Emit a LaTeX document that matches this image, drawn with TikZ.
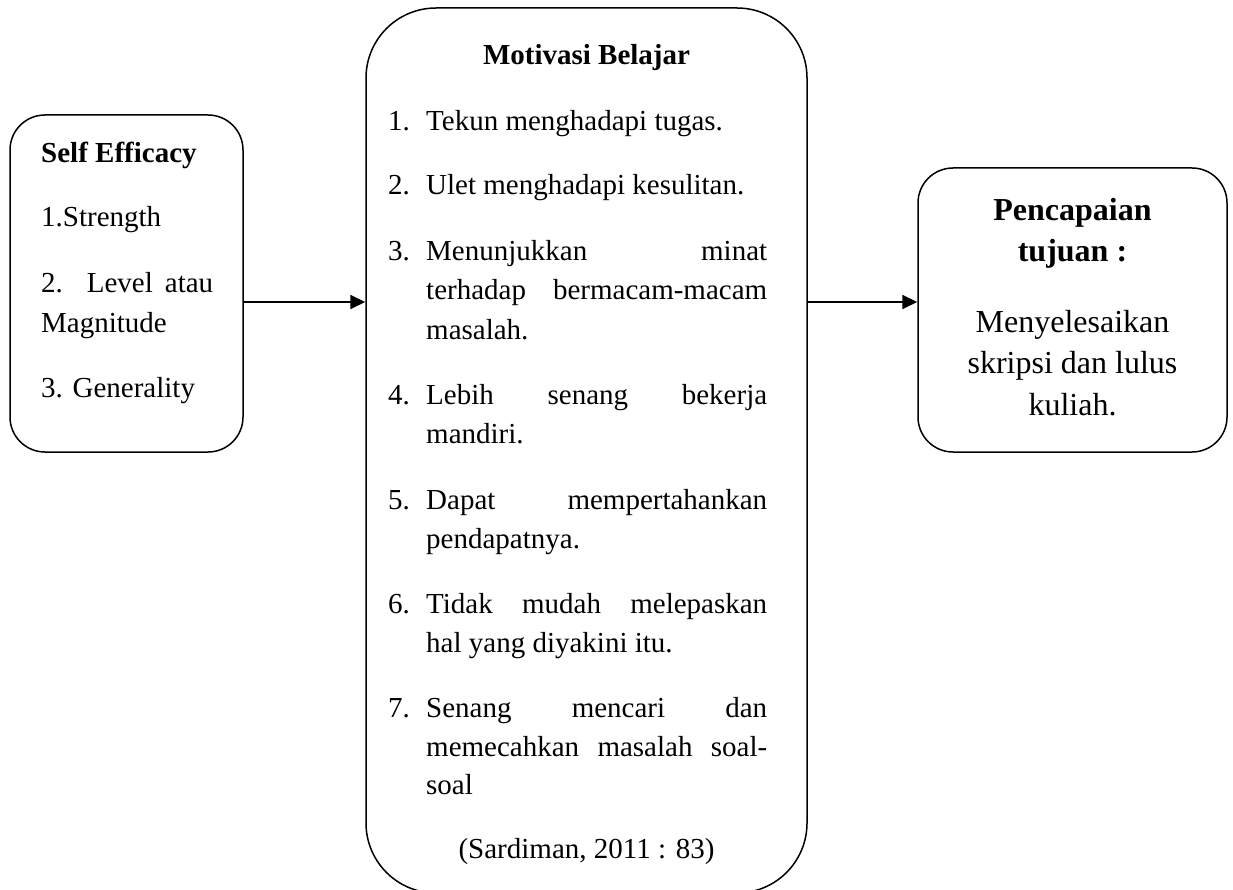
\documentclass[tikz,border=0pt]{standalone}
\usepackage{fontspec}
\setmainfont{Liberation Serif}
\usetikzlibrary{arrows.meta}
\begin{document}
\begin{tikzpicture}[x=1pt,y=-1pt,
  box/.style={draw, line width=1.5pt, inner sep=0pt},
  arr/.style={line width=2pt, -{Triangle[length=15pt,width=14pt]}},
  txt/.style={inner sep=0pt, anchor=base west, font=\fontsize{29}{35}\selectfont},
  ctr/.style={inner sep=0pt, anchor=base, font=\fontsize{29}{35}\selectfont},
  rtx/.style={inner sep=0pt, anchor=base, font=\fontsize{32}{38}\selectfont}]
\useasboundingbox (0,0) rectangle (1233,890);
\clip (0,0) rectangle (1233,890);
% boxes
\node[box, rounded corners=35pt, minimum width=233pt, minimum height=337pt] (se) at (126.5,283.5) {};
\node[box, overlay, rounded corners=70pt, minimum width=441pt, minimum height=885pt] (mb) at (586.5,450.5) {};
\node[box, rounded corners=35pt, minimum width=309pt, minimum height=284pt] (pt) at (1072.5,310) {};
% connectors
\coordinate (ay) at (0,302);
\draw[arr] (se.east |- ay) -- (mb.west |- ay);
\draw[arr] (mb.east |- ay) -- (pt.west |- ay);
% left box text
\node[txt, font=\fontsize{29}{35}\selectfont\bfseries] (l0) at (41,163) {Self Efficacy};
\node[txt] (l1) at (41,227) {1.Strength};
\node[txt] (l2) at (41,293) {\makebox[172pt][s]{2. Level atau}};
\node[txt] (l3) at (41,332) {Magnitude};
\node[txt] (l4) at (41,397) {3. Generality};
% middle box text
\node[ctr, font=\fontsize{29}{35}\selectfont\bfseries] (mt) at (586.5,65) {Motivasi Belajar};
\node[txt] (n1) at (388,131) {1.};
\node[txt] (t1) at (426,131) {Tekun menghadapi tugas.};
\node[txt] (n2) at (388,195) {2.};
\node[txt] (t2) at (426,195) {Ulet menghadapi kesulitan.};
\node[txt] (n3) at (388,261) {3.};
\node[txt] (t3a) at (426,261) {\makebox[341pt][s]{Menunjukkan minat}};
\node[txt] (t3b) at (426,300) {\makebox[341pt][s]{terhadap bermacam-macam}};
\node[txt] (t3c) at (426,339) {masalah.};
\node[txt] (n4) at (388,404) {4.};
\node[txt] (t4a) at (426,404) {\makebox[341pt][s]{Lebih senang bekerja}};
\node[txt] (t4b) at (426,443) {mandiri.};
\node[txt] (n5) at (388,509) {5.};
\node[txt] (t5a) at (426,509) {\makebox[341pt][s]{Dapat mempertahankan}};
\node[txt] (t5b) at (426,548) {pendapatnya.};
\node[txt] (n6) at (388,613) {6.};
\node[txt] (t6a) at (426,613) {\makebox[341pt][s]{Tidak mudah melepaskan}};
\node[txt] (t6b) at (426,652) {hal yang diyakini itu.};
\node[txt] (n7) at (388,717) {7.};
\node[txt] (t7a) at (426,717) {\makebox[341pt][s]{Senang mencari dan}};
\node[txt] (t7b) at (426,756) {\makebox[341pt][s]{memecahkan masalah soal-}};
\node[txt] (t7c) at (426,794) {soal};
\node[ctr] (src) at (586.5,858) {(Sardiman, 2011 : 83)};
% right box text
\node[rtx, font=\fontsize{32}{38}\selectfont\bfseries] (r0) at (1072.5,221) {Pencapaian};
\node[rtx, font=\fontsize{32}{38}\selectfont\bfseries] (r1) at (1072.5,262) {tujuan :};
\node[rtx] (r2) at (1072.5,332) {Menyelesaikan};
\node[rtx] (r3) at (1072.5,373) {skripsi dan lulus};
\node[rtx] (r4) at (1072.5,415) {kuliah.};
\end{tikzpicture}
\end{document}
